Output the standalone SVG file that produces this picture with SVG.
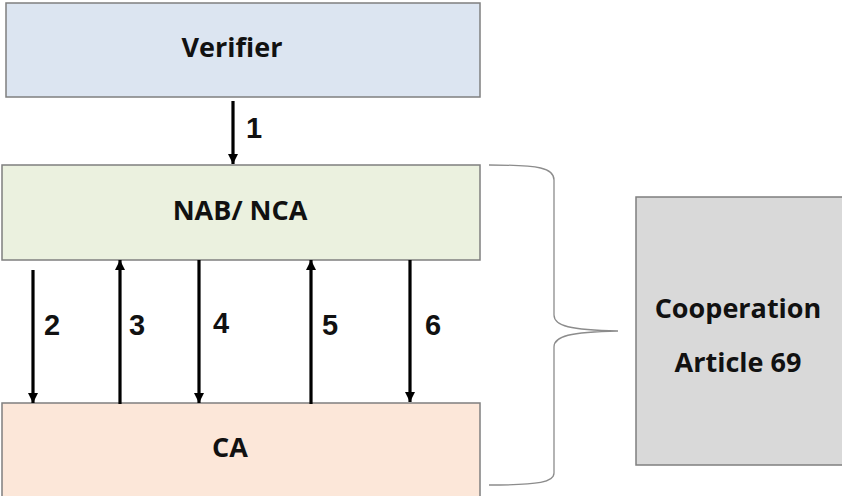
<svg xmlns="http://www.w3.org/2000/svg" width="842" height="496" viewBox="0 0 842 496">
<defs>
<marker id="ah" markerWidth="10" markerHeight="10" refX="10" refY="5" orient="auto-start-reverse" markerUnits="userSpaceOnUse" viewBox="0 0 10 10">
<path d="M0,0 L10,5 L0,10 Z" fill="#000"/>
</marker>
<style>
.box{stroke:#7f7f7f;stroke-width:1.5}
.t{font-family:"Open Sans","Liberation Sans",sans-serif;font-weight:bold;font-size:27px;fill:#111;text-anchor:middle}
.n{font-family:"Liberation Sans",Arial,sans-serif;font-weight:bold;font-size:29px;fill:#111}
.c line{stroke:#000;stroke-width:3.2}
</style>
</defs>
<rect width="842" height="496" fill="#fff"/>
<g id="verifier"><rect class="box" x="6" y="3" width="474" height="94" fill="#dce5f1"/><text class="t" x="232" y="57">Verifier</text></g>
<g id="nab"><rect class="box" x="2" y="165" width="478" height="95" fill="#ebf1df"/><text class="t" x="240" y="220">NAB/ NCA</text></g>
<g id="ca"><rect class="box" x="2" y="403" width="478" height="100" fill="#fce7d9"/><text class="t" x="230" y="457">CA</text></g>
<g id="coop"><rect class="box" x="636" y="197" width="215" height="268" fill="#d9d9d9"/><text class="t" x="738" y="318">Cooperation</text><text class="t" x="738" y="372">Article 69</text></g>
<g id="brace"><path d="M489,165 C540,165 554,168 554,180 L554,315 C554,326 570,330 618,331 C570,332 554,336 554,347 L554,473 C554,482 540,485 489,485" fill="none" stroke="#8c8c8c" stroke-width="1.3"/></g>
<g class="c" id="connectors">
<line x1="233" y1="101" x2="233" y2="164" marker-end="url(#ah)"/>
<line x1="33" y1="270" x2="33" y2="403" marker-end="url(#ah)"/>
<line x1="120" y1="404" x2="120" y2="260" marker-end="url(#ah)"/>
<line x1="199" y1="260" x2="199" y2="403" marker-end="url(#ah)"/>
<line x1="311" y1="404" x2="311" y2="260" marker-end="url(#ah)"/>
<line x1="410" y1="260" x2="410" y2="402" marker-end="url(#ah)"/>
</g>
<g id="labels">
<text class="n" x="246" y="138">1</text>
<text class="n" x="44" y="335">2</text>
<text class="n" x="129" y="335">3</text>
<text class="n" x="213" y="333">4</text>
<text class="n" x="322" y="335">5</text>
<text class="n" x="425" y="335">6</text>
</g>
</svg>
